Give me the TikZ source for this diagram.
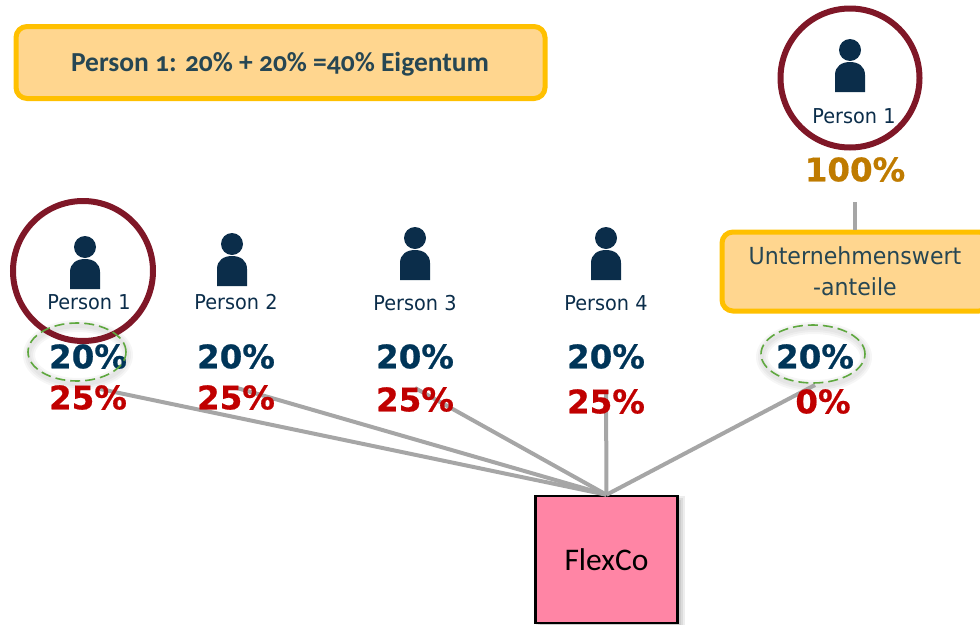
\documentclass[tikz,border=0pt]{standalone}
\usepackage{fontspec}
\usepackage{tikz}
\usetikzlibrary{shapes.geometric}
\setmainfont{DejaVu Sans}
\newfontfamily\labelfont[FakeStretch=0.94]{DejaVu Sans}
\newfontfamily\pctfont[FakeBold=0.6]{DejaVu Sans Bold}
\newfontfamily\boxfont[Numbers=OldStyle]{Carlito}
\definecolor{navy}{HTML}{0B2D4A}
\definecolor{pctblue}{HTML}{003558}
\definecolor{pctred}{HTML}{C00000}
\definecolor{pctbrown}{HTML}{BF7B00}
\definecolor{ringred}{HTML}{7F1727}
\definecolor{boxline}{HTML}{FFC000}
\definecolor{boxfill}{HTML}{FFD68F}
\definecolor{boxtext}{HTML}{264653}
\definecolor{flexpink}{HTML}{FF85A5}
\definecolor{linkgray}{HTML}{A6A6A6}
\definecolor{dashgreen}{HTML}{5FA83F}
\tikzstyle{link}=[draw=linkgray, line width=4pt]
\tikzstyle{head}=[circle, fill=navy, inner sep=0pt, minimum size=22pt]
\tikzstyle{plabel}=[text=navy, inner sep=0pt, font=\labelfont\fontsize{20.5}{24}\selectfont]
\tikzstyle{pct}=[inner sep=0pt, font=\pctfont\fontsize{32.5}{36}\selectfont]
\tikzstyle{ring}=[circle, draw=ringred, line width=6pt, inner sep=0pt]
\tikzstyle{ybox}=[draw=boxline, fill=boxfill, line width=5pt, rounded corners=11pt, inner sep=0pt, text=boxtext]
\tikzstyle{boxlabel}=[text=boxtext, inner sep=0pt, font=\labelfont\fontsize{23.5}{26}\selectfont]
\tikzstyle{dashring}=[ellipse, draw=dashgreen, line width=1.6pt, dash pattern=on 10pt off 5pt, inner sep=0pt]
\newcommand{\personicon}[3]{%
    \node[head] (#1) at (#2, #3) {};
    \fill[navy] (#2-15, #3+42) -- (#2-15, #3+25) .. controls (#2-15, #3+16) and (#2-8, #3+12) .. (#2, #3+12)
        .. controls (#2+8, #3+12) and (#2+15, #3+16) .. (#2+15, #3+25) -- (#2+15, #3+42) -- cycle;
}
\newcommand{\softglow}[4]{%
    \foreach \w in {12, 8, 4} {
        \draw[black, opacity=0.035, line width=\w pt] (#1+1, #2+3) ellipse[x radius=#3, y radius=#4];
    }
}
\begin{document}
\begin{tikzpicture}[x=1pt, y=-1pt]
    \useasboundingbox (0, 0) rectangle (980, 624);

    % connectors
    \coordinate (L1) at (100, 389);
    \coordinate (L2) at (237, 388);
    \coordinate (L3) at (415, 388);
    \coordinate (L4) at (606, 390);
    \coordinate (L5) at (815, 385);
    \coordinate (U1) at (855, 202);

    % shadow of the company box
    \foreach \w in {1, 3, 5, 7} {
        \fill[black, opacity=0.07] (535+\w, 495+\w) rectangle (678+8-\w, 623+8-\w);
    }
    \softglow{77}{352}{49}{29}
    \softglow{813}{354}{52}{29}

    \node[draw=black, fill=flexpink, line width=2.5pt, minimum width=142pt, minimum height=127pt, inner sep=0pt,
        font=\boxfont\fontsize{31.5}{34}\selectfont, text=black] (FC) at (606.5, 559.5) {FlexCo};
    \draw[link] (L1) -- (FC.north);
    \draw[link] (L2) -- (FC.north);
    \draw[link] (L3) -- (FC.north);
    \draw[link] (L4) -- (FC.north);
    \draw[link] (L5) -- (FC.north);

    % top box
    \node[ybox, minimum width=529pt, minimum height=72pt] (Sum) at (280.5, 62.5) {};
    \node[text=boxtext, inner sep=0pt, font=\boxfont\bfseries\fontsize{27.5}{30}\selectfont] (SumT) at (280, 64)
        {Person 1: 20\% + 20\% =40\% Eigentum};

    % persons
    \personicon{H1}{85}{247}
    \personicon{H2}{232}{244}
    \personicon{H3}{415}{238}
    \personicon{H4}{606}{238}
    \personicon{H0}{850}{50}

    \node[plabel] (P1) at (89, 302) {Person 1};
    \node[plabel] (P2) at (236, 302) {Person 2};
    \node[plabel] (P3) at (415, 303) {Person 3};
    \node[plabel] (P4) at (606, 303) {Person 4};
    \node[plabel] (P0) at (854, 116) {Person 1};

    \node[ring, minimum size=140pt] (R1) at (83, 271) {};
    \node[ring, minimum size=139pt] (R0) at (850, 78) {};

    % shares
    \node[pct, text=pctblue] (A1) at (88, 356.5) {20\%};
    \node[pct, text=pctblue] (A2) at (236, 356.5) {20\%};
    \node[pct, text=pctblue] (A3) at (415, 356.5) {20\%};
    \node[pct, text=pctblue] (A4) at (606, 356.5) {20\%};
    \node[pct, text=pctblue] (A5) at (815, 356.5) {20\%};
    \node[pct, text=pctred] (B1) at (88, 397.5) {25\%};
    \node[pct, text=pctred] (B2) at (236, 397.5) {25\%};
    \node[pct, text=pctred] (B3) at (415, 399.5) {25\%};
    \node[pct, text=pctred] (B4) at (606, 401.5) {25\%};
    \node[pct, text=pctred] (B5) at (823, 401.5) {0\%};
    \node[pct, text=pctbrown] (T0) at (855, 169.5) {100\%};

    \node[dashring, minimum width=98pt, minimum height=58pt] (E1) at (77, 352) {};
    \node[dashring, minimum width=104pt, minimum height=58pt] (E5) at (813, 354) {};

    % value box
    \node[ybox, minimum width=268pt, minimum height=79pt] (UW) at (856, 271.5) {};
    \draw[link] (U1) -- (U1 |- UW.north);
    \node[boxlabel] (UWa) at (855, 256) {Unternehmenswert};
    \node[boxlabel] (UWb) at (855, 287) {-anteile};
\end{tikzpicture}
\end{document}
